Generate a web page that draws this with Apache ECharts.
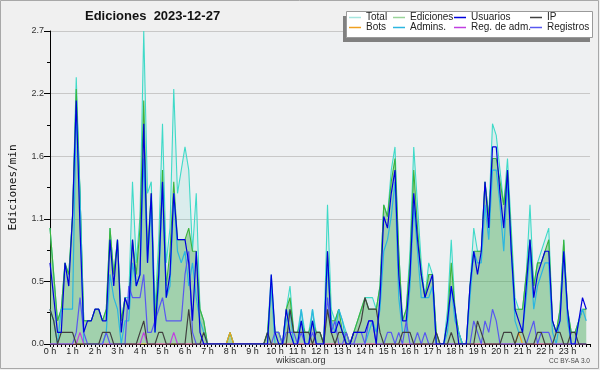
<!DOCTYPE html>
<html>
<head>
<meta charset="utf-8">
<script src="https://cdn.jsdelivr.net/npm/echarts@6/dist/echarts.min.js"></script>
<style>
html,body{margin:0;padding:0;background:#f0f0f0;}
#c{width:600px;height:370px;}
</style>
</head>
<body>
<div id="c"></div>
<script>
// 10-minute buckets (144 per day), values in edits/min
const total = [
1.0,0.6,0.2,0.3,0.7,0.6,1.1,2.3,1.3,0.2,0.2,0.2,
0.3,0.3,0.2,0.3,1.0,0.6,0.9,0.2,0.4,0.4,1.4,0.7,
1.1,2.7,1.3,1.4,0.3,0.9,1.9,0.7,1.0,2.2,1.3,1.5,
1.7,1.5,0.8,1.3,0.3,0.2,0,0,0,0,0,0,
0.1,0,0,0,0,0,0,0,0,0,0.1,0.6,
0.1,0.1,0,0.3,0.5,0.1,0.1,0.3,0.1,0.1,0.3,0.1,
0.1,0,1.2,0.3,0.2,0.3,0.2,0.1,0,0.1,0.2,0.3,
0.4,0.4,0.4,0.3,0.5,1.2,1.1,1.5,1.7,0.8,0.2,0.3,
0.8,1.7,1.2,0.7,0.4,0.7,0.6,0.1,0,0,0.3,0.9,
0.3,0.1,0,0,0.5,1.0,0.8,0.8,1.4,1.1,1.9,1.8,
1.5,1.2,1.6,1.0,0.4,0.3,0.3,0.6,1.2,0.5,0.7,0.8,
0.9,1.0,0.2,0.1,0.3,0.9,0.3,0.1,0.1,0.2,0.3,0.3];
const ediciones = [
1.0,0.6,0.2,0.3,0.7,0.6,1.1,2.2,1.3,0.2,0.2,0.2,
0.3,0.3,0.2,0.3,1.0,0.6,0.9,0.2,0.4,0.3,0.9,0.6,
1.0,2.1,0.8,1.3,0.2,0.7,1.5,0.5,0.8,1.4,0.9,0.9,
0.9,1.0,0.8,0.8,0.3,0.2,0,0,0,0,0,0,
0.1,0,0,0,0,0,0,0,0,0,0.1,0.5,
0.1,0.1,0,0.3,0.4,0.1,0.1,0.2,0.1,0.1,0.2,0.1,
0.1,0,0.8,0.2,0.2,0.3,0.1,0.1,0,0.1,0.2,0.3,
0.4,0.3,0.3,0.3,0.5,1.2,1.1,1.4,1.6,0.8,0.2,0.3,
0.7,1.5,1.0,0.6,0.4,0.6,0.6,0.1,0,0,0.2,0.7,
0.3,0.1,0,0,0.5,0.8,0.8,0.8,1.4,1.1,1.6,1.6,
1.4,1.2,1.5,0.9,0.3,0.3,0.3,0.6,0.9,0.5,0.7,0.7,
0.8,0.9,0.2,0.1,0.3,0.9,0.3,0.1,0.1,0.2,0.3,0.3];
const usuarios = [
0.7,0.4,0.1,0.1,0.7,0.5,1.1,2.1,1.0,0.1,0.2,0.2,
0.3,0.3,0.2,0.2,0.9,0.5,0.9,0.1,0.4,0.3,0.9,0.5,
0.6,1.9,0.7,1.3,0.1,0.6,1.4,0.4,0.6,1.3,0.9,0.9,
0.9,0.7,0.2,0.8,0.1,0,0,0,0,0,0,0,
0,0,0,0,0,0,0,0,0,0,0,0.6,
0.1,0,0,0.3,0.1,0,0,0.2,0,0,0.2,0,
0,0,0.8,0.1,0.1,0.2,0.1,0,0,0.1,0.1,0.1,
0.1,0.2,0.2,0,0.4,1.1,1.0,1.3,1.5,0.6,0.2,0.2,
0.6,1.3,0.9,0.6,0.4,0.5,0.6,0,0,0,0.2,0.5,
0.3,0,0,0,0.5,0.8,0.6,0.8,1.4,1.0,1.7,1.7,
1.3,1.0,1.5,0.8,0.3,0.2,0.1,0.5,0.9,0.4,0.6,0.7,
0.8,0.8,0.2,0.1,0.2,0.8,0.3,0,0,0.2,0.4,0.3];
const ip = [
0.3,0.2,0,0.1,0.1,0.1,0.1,0,0,0,0,0,
0,0,0.1,0.1,0.1,0,0,0,0,0,0,0,
0.1,0.2,0,0,0,0.1,0.1,0,0,0,0,0,
0,0.3,0,0,0,0.1,0,0,0,0,0,0,
0,0,0,0,0,0,0,0,0,0,0.1,0,
0,0,0,0,0.3,0.1,0.1,0.1,0.1,0.1,0,0.1,
0.1,0,0.3,0.1,0,0.1,0.1,0,0,0.1,0.1,0.2,
0.4,0.3,0.3,0.3,0.1,0,0,0,0,0,0.1,0.1,
0.1,0,0,0,0,0,0,0.1,0,0,0,0.1,
0,0,0,0,0,0,0.2,0.1,0,0,0,0,
0,0.1,0.1,0.1,0,0.1,0.1,0,0,0,0.1,0.1,
0,0,0,0.1,0.1,0,0,0.1,0.1,0,0,0];
const bots = [
0,0,0,0,0,0,0,0,0,0,0,0,
0,0,0,0,0,0,0,0,0,0,0,0,
0,0,0,0,0,0,0,0,0,0,0,0,
0,0,0,0,0,0,0,0,0,0,0,0,
0.1,0,0,0,0,0,0,0,0,0,0,0,
0,0,0,0,0,0,0,0,0,0,0,0,
0,0,0,0,0,0,0,0,0,0,0,0,
0,0,0,0,0,0,0,0,0,0,0,0,
0,0,0,0,0,0,0,0,0,0,0,0,
0,0,0,0,0,0,0,0,0,0,0,0,
0,0,0,0,0,0.1,0,0,0,0,0,0,
0,0,0,0,0,0,0,0,0,0,0,0];
const admins = [
0.3,0.2,0,0.3,0.3,0.3,0.3,2.0,1.3,0,0,0,
0,0,0,0.1,0.6,0.4,0.3,0,0.2,0.2,0.7,0.5,
0.6,1.6,0.7,1.2,0.1,0.5,1.4,0.4,0.5,1.3,0.8,0.7,
0.8,0.5,0.7,0.4,0.2,0.1,0,0,0,0,0,0,
0,0,0,0,0,0,0,0,0,0,0,0.5,
0,0,0,0.2,0.3,0,0,0.3,0,0,0.3,0,
0,0,0.7,0.2,0.1,0.3,0.2,0,0,0,0,0,
0,0.1,0.2,0.1,0.3,0.8,0.9,1.1,1.4,0.4,0.1,0.1,
0.5,1.2,0.8,0.4,0.4,0.4,0.5,0,0,0,0.1,0.5,
0.2,0.1,0,0,0.4,0.8,0.7,0.7,1.2,0.9,1.5,1.5,
1.2,0.8,1.4,0.8,0.2,0.1,0.1,0.4,0.8,0.3,0.5,0.6,
0.7,0.7,0.1,0,0.2,0.8,0.2,0,0,0.2,0.3,0.2];
const regAdm = [
0,0,0,0,0,0,0,0,0.1,0,0,0,
0,0,0,0,0,0,0,0,0,0,0,0,
0,0.1,0,0,0,0,0,0,0,0.1,0,0,
0,0,0,0,0,0,0,0,0,0,0,0,
0,0,0,0,0,0,0,0,0,0,0,0,
0,0,0,0,0,0,0,0,0,0,0,0,
0,0,0,0,0,0,0,0,0,0,0,0,
0,0,0,0,0,0,0,0,0,0,0,0,
0,0,0,0,0,0,0,0,0,0,0,0,
0,0,0,0,0,0,0,0,0,0,0,0,
0,0,0,0,0,0,0,0,0,0,0,0,
0,0,0,0,0,0,0,0,0,0,0,0];
const registros = [
0,0,0,0,0,0,0,0.1,0.4,0.1,0,0,
0,0,0,0.1,0,0,0,0,0,0.5,0.4,0.4,
0.4,0.6,0.1,0.1,0.2,0.3,0.4,0.2,0.2,0.2,0.2,0.2,
0.6,0.8,0.1,0,0,0,0,0,0,0,0,0,
0,0,0,0,0,0,0,0,0,0,0,0,
0.1,0.1,0,0.1,0.1,0.1,0,0.1,0,0,0.1,0,
0,0,0.4,0.1,0.2,0,0,0.1,0,0,0.1,0.1,
0,0.2,0.2,0,0,0,0.1,0.1,0,0.1,0,0.2,
0,0,0.1,0,0.1,0,0,0,0,0,0,0,
0,0,0,0,0,0.2,0.1,0,0.2,0.1,0.3,0.2,
0,0,0,0,0,0,0,0,0.1,0.2,0,0.1,
0.1,0.1,0,0,0,0,0,0,0,0,0,0];

const seriesNames = ['Total','Ediciones','Usuarios','IP','Bots','Admins.','Reg. de adm.','Registros'];
const yTicks = ['0.0','0.5','1.1','1.6','2.2','2.7'];
const STEPS = 144, PER_HOUR = 6, YMAX = 2.7;

function pts(a){ return a.map((v,i)=>[i,v]); }
const font = 'Liberation Sans, Arial, sans-serif';

function line(name, arr, color, z, extra){
  return Object.assign({
    name, type:'line', data:pts(arr), symbol:'none', z,
    lineStyle:{color, width:1.2}, itemStyle:{color},
    emphasis:{disabled:true}, animation:false
  }, extra||{});
}

const series = [
  line('Total', total, '#3fdac8', 2, {lineStyle:{color:'#3fdac8', width:1.1}, itemStyle:{color:'#a6e6df'}, areaStyle:{color:'rgba(64,214,190,0.16)'}}),
  line('Ediciones', ediciones, '#3cb43c', 3, {lineStyle:{color:'#3cb43c', width:1.1}, itemStyle:{color:'#9ad49a'}, areaStyle:{color:'rgba(58,160,58,0.5)'}}),
  line('Bots', bots, '#f0a020', 4),
  line('Admins.', admins, '#2cb6e0', 5),
  line('Reg. de adm.', regAdm, '#c040e0', 6),
  line('Registros', registros, '#5858f0', 7),
  line('IP', ip, '#404040', 8),
  line('Usuarios', usuarios, '#0000dd', 9)
];

const legendPos = [[349,12.5],[393,12.5],[454,12.5],[530,12.5],[349,22.5],[393,22.5],[454,22.5],[530,22.5]];
const legends = seriesNames.map((n,k)=>({
  data:[n], left:legendPos[k][0], top:legendPos[k][1], padding:0, itemGap:0,
  icon:'rect', itemWidth:12, itemHeight:1.5, selectedMode:false, z:200,
  textStyle:{fontSize:10, fontFamily:font, color:'#222'}
}));

const chart = echarts.init(document.getElementById('c'), null, {renderer:'canvas'});
chart.setOption({
  backgroundColor:'#f0f0f0',
  animation:false,
  title:[
    {text:'Ediciones  2023-12-27', left:85, top:10, padding:0,
     textStyle:{fontFamily:font, fontWeight:'bold', fontSize:13, color:'#111'}},
    {text:'wikiscan.org', left:276, top:356, padding:0,
     textStyle:{fontFamily:font, fontWeight:'normal', fontSize:9, color:'#333'}},
    {text:'CC BY-SA 3.0', left:549, top:358, padding:0,
     textStyle:{fontFamily:font, fontWeight:'normal', fontSize:6.5, color:'#444'}}
  ],
  legend:legends,
  grid:{left:46, right:10, top:31, bottom:26, show:true, backgroundColor:'#eef0f2', borderWidth:0},
  xAxis:{
    type:'value', min:0, max:STEPS, interval:PER_HOUR,
    axisLine:{show:true, onZero:false, lineStyle:{color:'#000', width:1}},
    axisTick:{show:true, length:3, lineStyle:{color:'#000'}},
    minorTick:{show:true, splitNumber:PER_HOUR, length:3, lineStyle:{color:'#000'}},
    splitLine:{show:false},
    axisLabel:{margin:3, fontSize:9, fontFamily:font, color:'#222',
      formatter:v=> v<STEPS ? (v/PER_HOUR)+' h' : ''}
  },
  yAxis:{
    type:'value', min:0, max:YMAX, interval:YMAX/5,
    name:'Ediciones/min', nameLocation:'middle', nameGap:31, nameRotate:90,
    nameTextStyle:{fontFamily:'DejaVu Sans Mono, monospace', fontSize:11, color:'#111'},
    axisLine:{show:true, lineStyle:{color:'#000', width:1}},
    axisTick:{show:true, length:6, lineStyle:{color:'#000'}},
    minorTick:{show:true, splitNumber:2, length:3, lineStyle:{color:'#000'}},
    splitLine:{show:true, lineStyle:{color:'#c8c8c8', width:1}},
    axisLabel:{margin:6, fontSize:9, fontFamily:font, color:'#333',
      formatter:(v)=>{ const k=Math.round(v/(YMAX/5)); return yTicks[k]; }}
  },
  graphic:[
    {type:'rect', z:149, silent:true, shape:{x:343, y:16, width:247, height:26}, style:{fill:'#808080'}},
    {type:'rect', z:150, silent:true, shape:{x:346.5, y:11.5, width:246, height:26}, style:{fill:'#ffffff', stroke:'#9a9a9a', lineWidth:1}},
    {type:'rect', z:1, silent:true, shape:{x:0.5, y:0.5, width:598, height:368}, style:{fill:'none', stroke:'#a8a8a8', lineWidth:1}}
  ],
  series
});
</script>
</body>
</html>
